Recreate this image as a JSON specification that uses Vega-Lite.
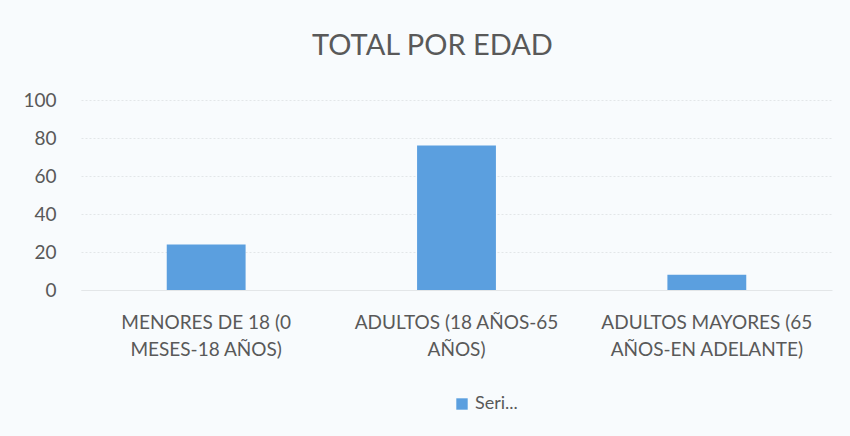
{
  "$schema": "https://vega.github.io/schema/vega-lite/v6.json",
  "autosize": "none",
  "width": 751,
  "height": 190,
  "padding": {"left": 81, "top": 100, "right": 18, "bottom": 146},
  "background": "#f8fbfd",
  "title": {
    "text": "TOTAL POR EDAD",
    "font": "Lato",
    "fontSize": 29,
    "fontWeight": "normal",
    "color": "#595959",
    "anchor": "middle",
    "dx": -24,
    "offset": 30
  },
  "data": {
    "values": [
      {"categoria": "MENORES DE 18 (0 MESES-18 AÑOS)", "serie": "Seri...", "valor": 24},
      {"categoria": "ADULTOS (18 AÑOS-65 AÑOS)", "serie": "Seri...", "valor": 76},
      {"categoria": "ADULTOS MAYORES (65 AÑOS-EN ADELANTE)", "serie": "Seri...", "valor": 8}
    ]
  },
  "mark": {"type": "bar", "color": "#5b9fdf"},
  "encoding": {
    "x": {
      "field": "categoria",
      "type": "nominal",
      "sort": null,
      "scale": {"paddingInner": 0.685, "paddingOuter": 0.3425},
      "axis": {
        "title": null,
        "labelAngle": 0,
        "labelFont": "Lato",
        "labelFontSize": 19,
        "labelColor": "#595959",
        "labelPadding": 23,
        "labelLineHeight": 27,
        "labelLimit": 300,
        "labelBaseline": "top",
        "ticks": false,
        "domainColor": "#e3e6e8",
        "labelExpr": "datum.value == 'MENORES DE 18 (0 MESES-18 AÑOS)' ? ['MENORES DE 18 (0', 'MESES-18 AÑOS)'] : datum.value == 'ADULTOS (18 AÑOS-65 AÑOS)' ? ['ADULTOS (18 AÑOS-65', 'AÑOS)'] : ['ADULTOS MAYORES (65', 'AÑOS-EN ADELANTE)']"
      }
    },
    "y": {
      "field": "valor",
      "type": "quantitative",
      "scale": {"domain": [0, 100]},
      "axis": {
        "title": null,
        "values": [0, 20, 40, 60, 80, 100],
        "labelFont": "Lato",
        "labelFontSize": 19,
        "labelColor": "#595959",
        "labelPadding": 25,
        "ticks": false,
        "domain": false,
        "gridColor": "#e3e6e8",
        "gridDash": [2, 2]
      }
    },
    "fill": {
      "field": "serie",
      "type": "nominal",
      "scale": {"range": ["#5b9fdf"]},
      "legend": {
        "title": null,
        "orient": "none",
        "legendX": 372,
        "legendY": 295,
        "symbolType": "square",
        "symbolSize": 130,
        "labelFont": "Lato",
        "labelFontSize": 18,
        "labelColor": "#595959"
      }
    }
  },
  "config": {"view": {"stroke": null}}
}
